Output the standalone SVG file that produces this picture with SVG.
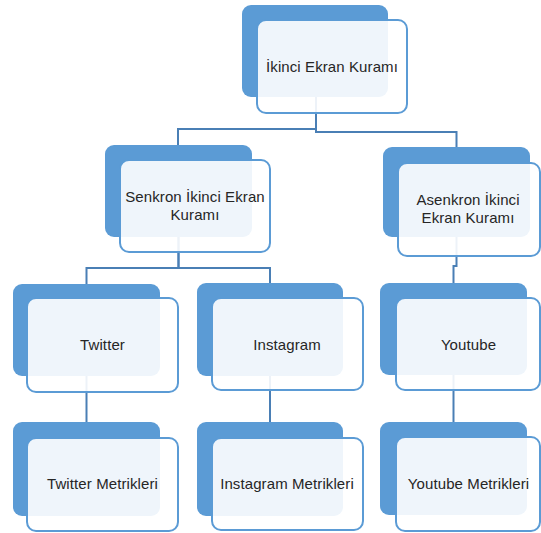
<svg xmlns="http://www.w3.org/2000/svg" width="541" height="533" viewBox="0 0 541 533">
<style>
.back{fill:#5b9bd5;}
.front{fill:#ffffff;fill-opacity:0.9;stroke:#5b9bd5;stroke-width:2;}
.conn{fill:none;stroke:#4a7fb5;stroke-width:2;}
.lbl{font-family:"Liberation Sans",Arial,sans-serif;font-size:15px;letter-spacing:0.1px;fill:#262626;text-anchor:middle;}
</style>
<rect width="541" height="533" fill="#ffffff"/>
<g id="connectors">
<path class="conn" d="M316,97 V129 H178 V145"/>
<path class="conn" d="M316,97 V132 H456.5 V147"/>
<path class="conn" d="M178.5,237 V268 H86.5 V284"/>
<path class="conn" d="M178.5,237 V268 H270 V283"/>
<path class="conn" d="M456.5,237 V266 H453.5 V283"/>
<path class="conn" d="M86.5,376 V422"/>
<path class="conn" d="M270,376 V422"/>
<path class="conn" d="M453.5,375 V422"/>
</g>
<g id="node-ikinci">
<rect class="back" x="242" y="5" width="146" height="92" rx="9"/>
<rect class="front" x="257" y="20" width="150" height="93" rx="9"/>
<text class="lbl" x="332" y="72">İkinci Ekran Kuramı</text>
</g>
<g id="node-senkron">
<rect class="back" x="105" y="145" width="147" height="92" rx="9"/>
<rect class="front" x="120" y="160" width="150" height="92" rx="9"/>
<text class="lbl" x="195" y="202">Senkron İkinci Ekran</text>
<text class="lbl" x="195" y="220">Kuramı</text>
</g>
<g id="node-asenkron">
<rect class="back" x="383" y="147" width="147" height="90" rx="9"/>
<rect class="front" x="398" y="163" width="142" height="93" rx="9"/>
<text class="lbl" x="468" y="205">Asenkron İkinci</text>
<text class="lbl" x="468" y="223">Ekran Kuramı</text>
</g>
<g id="node-twitter">
<rect class="back" x="13" y="284" width="147" height="92" rx="9"/>
<rect class="front" x="27" y="298" width="151" height="94" rx="9"/>
<text class="lbl" x="102.5" y="350">Twitter</text>
</g>
<g id="node-instagram">
<rect class="back" x="197" y="283" width="146" height="93" rx="9"/>
<rect class="front" x="212" y="298" width="151" height="92" rx="9"/>
<text class="lbl" x="287" y="350">Instagram</text>
</g>
<g id="node-youtube">
<rect class="back" x="380" y="283" width="147" height="92" rx="9"/>
<rect class="front" x="396" y="298" width="144" height="92" rx="9"/>
<text class="lbl" x="468.5" y="350">Youtube</text>
</g>
<g id="node-twitter-metrikleri">
<rect class="back" x="13" y="422" width="147" height="94" rx="9"/>
<rect class="front" x="27" y="438" width="151" height="93" rx="9"/>
<text class="lbl" x="102.5" y="489">Twitter Metrikleri</text>
</g>
<g id="node-instagram-metrikleri">
<rect class="back" x="197" y="422" width="146" height="94" rx="9"/>
<rect class="front" x="212" y="438" width="151" height="92" rx="9"/>
<text class="lbl" x="287" y="489">Instagram Metrikleri</text>
</g>
<g id="node-youtube-metrikleri">
<rect class="back" x="380" y="422" width="147" height="93" rx="9"/>
<rect class="front" x="396" y="437" width="144" height="94" rx="9"/>
<text class="lbl" x="468.5" y="489">Youtube Metrikleri</text>
</g>
</svg>
